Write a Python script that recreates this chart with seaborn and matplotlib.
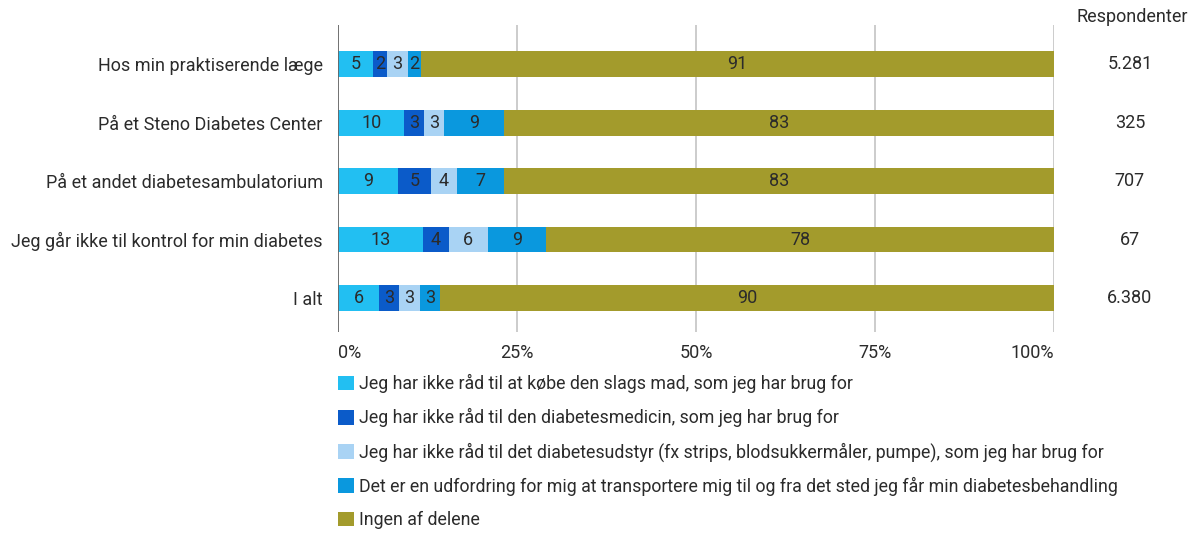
import numpy as np
import pandas as pd
import matplotlib.pyplot as plt
import seaborn as sns
from matplotlib.patches import Patch

# Data (raw percentages; bars are normalised to 100 %)
categories = [
    "Hos min praktiserende læge",
    "På et Steno Diabetes Center",
    "På et andet diabetesambulatorium",
    "Jeg går ikke til kontrol for min diabetes",
    "I alt",
]
series_names = [
    "Jeg har ikke råd til at købe den slags mad, som jeg har brug for",
    "Jeg har ikke råd til den diabetesmedicin, som jeg har brug for",
    "Jeg har ikke råd til det diabetesudstyr (fx strips, blodsukkermåler, pumpe), som jeg har brug for",
    "Det er en udfordring for mig at transportere mig til og fra det sted jeg får min diabetesbehandling",
    "Ingen af delene",
]
mad = [5, 10, 9, 13, 6]
medicin = [2, 3, 5, 4, 3]
udstyr = [3, 3, 4, 6, 3]
transport = [2, 9, 7, 9, 3]
ingen = [91, 83, 83, 78, 90]
respondenter = ["5.281", "325", "707", "67", "6.380"]
x_ticks = [0, 25, 50, 75, 100]
x_ticklabels = ["0%", "25%", "50%", "75%", "100%"]

colors = ["#22BFF2", "#0B5BC9", "#A9D3F4", "#0A98DE", "#A39B2C"]

sns.set_style("white")
plt.rcParams["font.family"] = ["Roboto", "DejaVu Sans"]
text_color = "#2b2b2b"
fs = 13

series = [mad, medicin, udstyr, transport, ingen]
values = np.array(series, dtype=float)          # shape (5 series, 5 rows)
totals = values.sum(axis=0)
shares = values / totals * 100
cum = np.cumsum(shares, axis=0)

fig = plt.figure(figsize=(12, 5.34), dpi=100)
ax = fig.add_axes([338 / 1200, 1 - 332 / 534, 716 / 1200, 307 / 534])

# stacked bars: draw cumulative totals from the outermost layer inwards
for k in range(len(series) - 1, -1, -1):
    df = pd.DataFrame({"kategori": categories, "andel": cum[k]})
    sns.barplot(data=df, x="andel", y="kategori", orient="h", color=colors[k],
                saturation=1, width=0.44, linewidth=0, ax=ax, zorder=3)

# value labels in each segment
for k in range(len(series)):
    left = cum[k] - shares[k]
    for i in range(len(categories)):
        ax.text(left[i] + shares[k][i] / 2, i, str(series[k][i]), ha="center", va="center",
                fontsize=fs, color=text_color, zorder=5)

# respondent counts on the right
for i, n in enumerate(respondenter):
    ax.text(110.6, i, n, ha="center", va="center", fontsize=fs, color=text_color, clip_on=False)
ax.text(110.9, -0.8, "Respondenter", ha="center", va="center", fontsize=fs, color=text_color,
        clip_on=False)

ax.set_xlim(0, 100)
ax.set_ylim(4.58, -0.67)
ax.set_xticks(x_ticks)
ax.set_xticklabels(x_ticklabels)
ax.set_xlabel("")
ax.set_ylabel("")
for spine in ax.spines.values():
    spine.set_visible(False)
ax.tick_params(axis="x", length=0, pad=9, labelsize=fs, labelcolor=text_color)
ax.tick_params(axis="y", length=0, pad=11, labelsize=fs, labelcolor=text_color)
tl = ax.get_xticklabels()
tl[0].set_ha("left")
tl[-1].set_ha("right")

for x in x_ticks[1:]:
    ax.axvline(x, color="#c4c4c4", lw=1.2, zorder=1)
ax.axvline(0, color="#666666", lw=1.3, zorder=4)

handles = [Patch(facecolor=c, edgecolor="none") for c in colors]
fig.legend(handles, series_names, loc="upper left", bbox_to_anchor=(338 / 1200, 1 - 374 / 534),
           frameon=False, fontsize=12.8, handlelength=0.9, handleheight=0.9, handletextpad=0.3,
           labelspacing=0.85, borderpad=0, borderaxespad=0, labelcolor=text_color)

fig.savefig("out.png", dpi=100)
